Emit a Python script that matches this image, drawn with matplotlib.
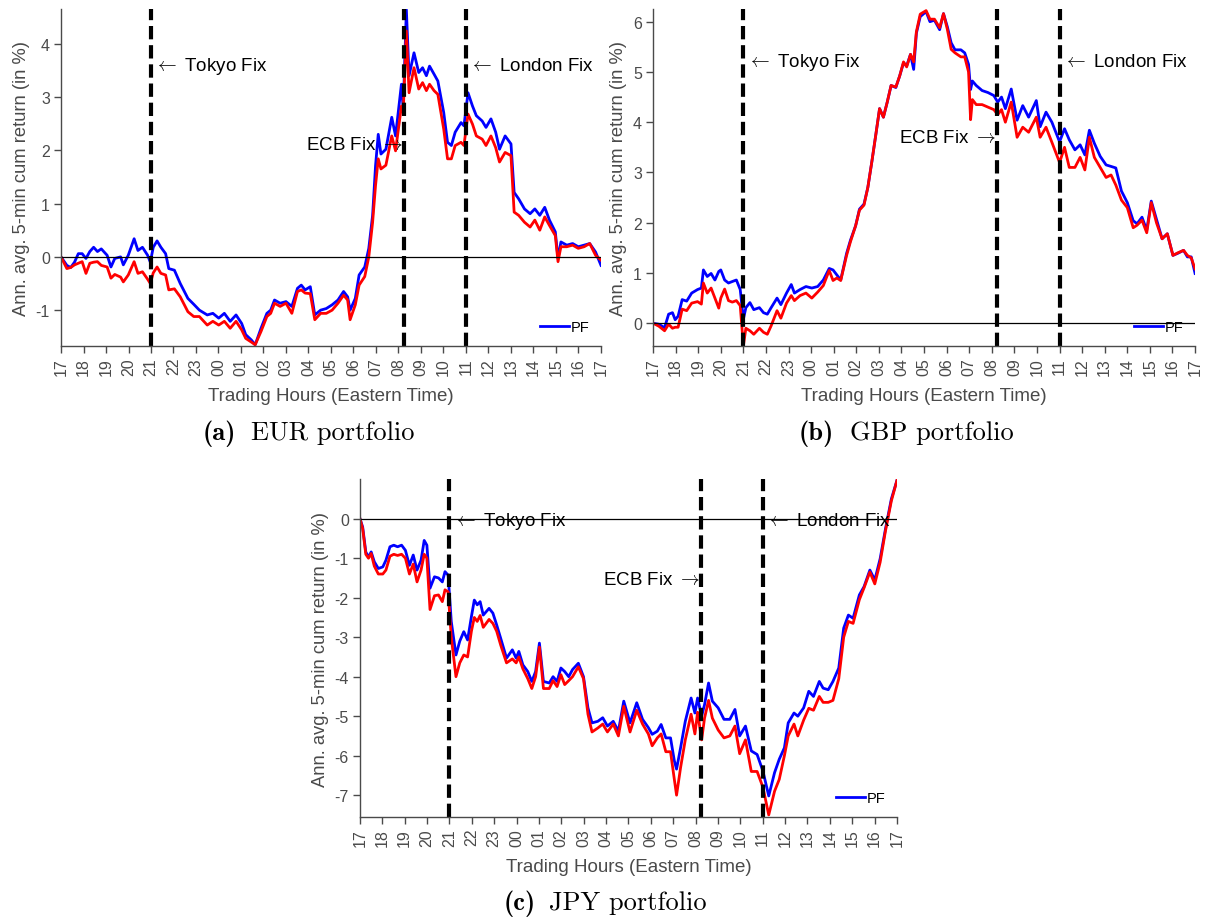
import matplotlib
matplotlib.use('Agg')
import matplotlib.pyplot as plt

# hours after 17:00 Eastern time
hour_labels = ['17', '18', '19', '20', '21', '22', '23', '00', '01', '02', '03',
               '04', '05', '06', '07', '08', '09', '10', '11', '12', '13', '14',
               '15', '16', '17']
fix_hours = [4.0, 15.25, 18.0]  # Tokyo, ECB, London

eur_hours = [0.00, 0.26, 0.43, 0.60, 0.77, 0.94, 1.11, 1.28, 1.45, 1.62,
             1.79, 2.05, 2.22, 2.39, 2.65, 2.77, 2.99, 3.25, 3.42, 3.62,
             3.85, 3.97, 4.10, 4.27, 4.44, 4.65, 4.79, 5.04, 5.30, 5.64,
             5.90, 6.15, 6.50, 6.75, 7.01, 7.26, 7.52, 7.78, 8.03, 8.21,
             8.46, 8.63, 8.89, 9.15, 9.32, 9.49, 9.74, 10.00, 10.26, 10.51,
             10.68, 10.85, 11.08, 11.28, 11.54, 11.79, 12.05, 12.31, 12.56, 12.74,
             12.85, 13.08, 13.25, 13.50, 13.68, 13.85, 13.98, 14.10, 14.22, 14.44,
             14.70, 14.87, 15.13, 15.21, 15.35, 15.47, 15.69, 15.90, 16.07, 16.24,
             16.38, 16.58, 16.75, 17.01, 17.18, 17.35, 17.52, 17.78, 17.91, 18.09,
             18.29, 18.46, 18.72, 18.89, 19.11, 19.32, 19.49, 19.74, 20.00, 20.14,
             20.34, 20.60, 20.85, 21.06, 21.28, 21.50, 21.71, 21.97, 22.09, 22.22,
             22.48, 22.74, 22.99, 23.25, 23.50, 23.76, 24.00]
eur_blue = [0, -0.16, -0.2, -0.1, 0.06, 0.06, -0.03, 0.1, 0.18, 0.1,
            0.15, 0.03, -0.19, -0.03, 0, -0.15, 0.03, 0.34, 0.12, 0.18,
            0.03, -0.1, 0.18, 0.3, 0.18, 0.06, -0.22, -0.25, -0.5, -0.78,
            -0.89, -1.0, -1.09, -1.06, -1.15, -1.06, -1.21, -1.09, -1.25, -1.46,
            -1.56, -1.65, -1.34, -1.06, -1.0, -0.81, -0.87, -0.84, -0.93, -0.59,
            -0.53, -0.62, -0.56, -1.09, -1.0, -0.97, -0.9, -0.81, -0.65, -0.75,
            -1.0, -0.78, -0.34, -0.19, 0.16, 0.78, 1.71, 2.3, 1.93, 2.02,
            2.62, 2.27, 3.24, 2.77, 4.64, 3.4, 3.83, 3.46, 3.55, 3.4,
            3.58, 3.43, 3.3, 2.71, 2.15, 2.09, 2.34, 2.52, 2.46, 3.08,
            2.83, 2.65, 2.55, 2.43, 2.59, 2.34, 2.02, 2.27, 2.12, 1.21,
            1.09, 0.9, 0.81, 0.9, 0.78, 0.93, 0.69, 0.47, -0.03, 0.28,
            0.22, 0.25, 0.19, 0.22, 0.25, 0.09, -0.16]
eur_red = [0, -0.22, -0.2, -0.15, -0.12, -0.09, -0.31, -0.12, -0.1, -0.09,
           -0.16, -0.19, -0.4, -0.33, -0.38, -0.47, -0.34, -0.09, -0.31, -0.28,
           -0.42, -0.5, -0.3, -0.19, -0.31, -0.34, -0.62, -0.6, -0.75, -1.03,
           -1.12, -1.12, -1.28, -1.21, -1.28, -1.21, -1.34, -1.21, -1.37, -1.53,
           -1.6, -1.65, -1.4, -1.12, -1.06, -0.87, -0.93, -0.87, -1.06, -0.65,
           -0.62, -0.68, -0.69, -1.18, -1.06, -1.06, -1.0, -0.87, -0.72, -0.81,
           -1.18, -0.9, -0.53, -0.37, 0.0, 0.65, 1.34, 1.84, 1.65, 1.72,
           2.27, 1.99, 2.83, 2.71, 4.24, 3.08, 3.55, 3.15, 3.27, 3.12,
           3.24, 3.12, 3.05, 2.4, 1.84, 1.84, 2.09, 2.15, 2.09, 2.68,
           2.49, 2.27, 2.21, 2.09, 2.27, 2.05, 1.78, 1.96, 1.9, 0.84,
           0.78, 0.65, 0.56, 0.69, 0.5, 0.75, 0.59, 0.4, -0.09, 0.19,
           0.19, 0.22, 0.16, 0.19, 0.25, 0.03, -0.06]

gbp_hours = [0, 0.26, 0.51, 0.69, 0.86, 0.98, 1.11, 1.29, 1.49, 1.71,
             1.97, 2.14, 2.23, 2.40, 2.57, 2.74, 2.91, 3.00, 3.17, 3.34,
             3.51, 3.69, 3.86, 4.00, 4.11, 4.29, 4.46, 4.71, 4.89, 5.06,
             5.23, 5.49, 5.66, 5.91, 6.12, 6.26, 6.51, 6.77, 7.03, 7.29,
             7.54, 7.80, 7.97, 8.14, 8.31, 8.57, 8.74, 8.97, 9.14, 9.34,
             9.51, 9.69, 9.86, 10.03, 10.20, 10.37, 10.54, 10.75, 10.92, 11.09,
             11.23, 11.40, 11.54, 11.66, 11.83, 12.09, 12.26, 12.46, 12.69, 12.86,
             13.03, 13.20, 13.37, 13.63, 13.80, 13.97, 14.06, 14.14, 14.31, 14.57,
             14.83, 15.09, 15.26, 15.43, 15.60, 15.86, 16.12, 16.37, 16.63, 16.97,
             17.14, 17.40, 17.66, 18.00, 18.22, 18.43, 18.68, 18.91, 19.12, 19.32,
             19.54, 19.80, 20.06, 20.28, 20.49, 20.74, 21.00, 21.26, 21.43, 21.65,
             21.86, 22.06, 22.29, 22.54, 22.77, 23.02, 23.23, 23.49, 23.66, 23.83,
             24.00]
gbp_blue = [0, -0.02, -0.09, 0.18, 0.21, 0.07, 0.14, 0.47, 0.44, 0.6,
            0.67, 0.7, 1.06, 0.93, 0.99, 0.86, 1.03, 1.06, 0.86, 0.8,
            0.83, 0.86, 0.67, 0.08, 0.31, 0.41, 0.27, 0.31, 0.21, 0.18,
            0.31, 0.5, 0.37, 0.6, 0.77, 0.6, 0.67, 0.73, 0.7, 0.73,
            0.86, 1.09, 1.06, 0.96, 0.86, 1.39, 1.65, 1.94, 2.27, 2.37,
            2.7, 3.22, 3.74, 4.27, 4.1, 4.4, 4.73, 4.69, 4.92, 5.18,
            5.12, 5.35, 5.05, 5.77, 6.1, 6.2, 6.0, 6.03, 5.84, 6.16,
            5.9, 5.58, 5.44, 5.44, 5.38, 5.15, 4.65, 4.82, 4.73, 4.63,
            4.59, 4.53, 4.4, 4.5, 4.27, 4.66, 4.04, 4.33, 4.1, 4.43,
            3.91, 4.2, 4.0, 3.61, 3.87, 3.65, 3.45, 3.55, 3.35, 3.84,
            3.58, 3.32, 3.15, 3.12, 3.09, 2.63, 2.4, 2.04, 1.98, 2.11,
            1.85, 2.43, 2.07, 1.68, 1.78, 1.35, 1.39, 1.45, 1.32, 1.32,
            0.99]
gbp_red = [0, -0.06, -0.15, -0.02, -0.1, -0.08, -0.08, 0.28, 0.25, 0.4,
           0.43, 0.38, 0.8, 0.6, 0.7, 0.5, 0.3, 0.5, 0.68, 0.45,
           0.42, 0.45, 0.35, -0.45, -0.1, -0.15, -0.22, -0.1, -0.18, -0.22,
           -0.05, 0.25, 0.1, 0.4, 0.55, 0.45, 0.55, 0.6, 0.5, 0.62,
           0.75, 1.05, 0.85, 0.9, 0.85, 1.35, 1.62, 1.94, 2.25, 2.35,
           2.7, 3.22, 3.74, 4.27, 4.1, 4.4, 4.73, 4.7, 4.92, 5.2,
           5.1, 5.35, 5.2, 5.8, 6.15, 6.22, 6.05, 6.05, 5.88, 6.16,
           5.85, 5.45, 5.38, 5.3, 5.3, 5.0, 4.05, 4.45, 4.35, 4.35,
           4.3, 4.25, 4.15, 4.25, 4.0, 4.4, 3.7, 3.9, 3.8, 4.1,
           3.7, 3.9, 3.6, 3.2, 3.5, 3.1, 3.1, 3.3, 3.05, 3.7,
           3.3, 3.1, 2.9, 2.95, 2.75, 2.45, 2.3, 1.9, 1.95, 2.05,
           1.8, 2.4, 2.0, 1.68, 1.78, 1.35, 1.4, 1.45, 1.35, 1.3,
           1.08]

jpy_hours = [0, 0.12, 0.26, 0.38, 0.50, 0.64, 0.82, 1.02, 1.16, 1.34,
             1.51, 1.68, 1.86, 2.03, 2.21, 2.38, 2.55, 2.73, 2.87, 2.99,
             3.13, 3.33, 3.51, 3.68, 3.80, 3.94, 4.08, 4.29, 4.46, 4.64,
             4.81, 4.98, 5.11, 5.24, 5.37, 5.51, 5.77, 5.94, 6.11, 6.29,
             6.55, 6.81, 6.98, 7.10, 7.28, 7.50, 7.68, 7.85, 8.02, 8.20,
             8.46, 8.63, 8.81, 8.98, 9.15, 9.33, 9.50, 9.76, 9.99, 10.19,
             10.37, 10.63, 10.85, 11.06, 11.32, 11.55, 11.79, 12.07, 12.37, 12.63,
             12.89, 13.06, 13.29, 13.46, 13.67, 13.88, 14.05, 14.15, 14.33, 14.54,
             14.80, 14.97, 15.09, 15.27, 15.40, 15.58, 15.75, 16.01, 16.27, 16.53,
             16.76, 16.97, 17.23, 17.49, 17.75, 18.01, 18.27, 18.53, 18.74, 18.97,
             19.14, 19.40, 19.57, 19.83, 20.06, 20.27, 20.53, 20.70, 20.93, 21.14,
             21.40, 21.62, 21.83, 22.04, 22.32, 22.53, 22.79, 23.01, 23.25, 23.49,
             23.75, 24.00]
jpy_blue = [0, -0.21, -0.84, -0.97, -0.84, -1.09, -1.26, -1.22, -1.05, -0.71,
            -0.67, -0.71, -0.67, -0.8, -1.18, -0.92, -1.3, -1.05, -0.55, -0.67,
            -1.76, -1.47, -1.5, -1.6, -1.34, -1.43, -2.6, -3.45, -3.1, -2.86,
            -3.07, -2.48, -2.06, -2.18, -2.1, -2.44, -2.27, -2.39, -2.69, -3.03,
            -3.53, -3.32, -3.53, -3.36, -3.7, -3.87, -4.12, -3.87, -3.15, -4.12,
            -4.16, -4.0, -4.12, -3.78, -3.87, -4.0, -3.82, -3.66, -4.0, -4.79,
            -5.17, -5.13, -5.04, -5.25, -5.13, -5.38, -4.62, -5.17, -4.66, -5.08,
            -5.29, -5.46, -5.38, -5.21, -5.55, -5.55, -6.13, -6.34, -5.8, -5.13,
            -4.54, -4.92, -4.54, -5.0, -4.71, -4.16, -4.62, -4.79, -5.08, -5.08,
            -4.83, -5.5, -5.25, -5.88, -5.97, -6.39, -7.02, -6.43, -6.09, -5.8,
            -5.17, -4.92, -5.0, -4.79, -4.37, -4.5, -4.12, -4.29, -4.33, -4.12,
            -3.78, -2.77, -2.44, -2.52, -1.93, -1.72, -1.3, -1.55, -1.01, -0.25,
            0.5, 0.97]
jpy_red = [0, -0.25, -0.9, -1.0, -0.88, -1.2, -1.4, -1.4, -1.3, -0.95,
           -0.9, -0.93, -0.9, -1.0, -1.4, -1.15, -1.6, -1.3, -0.9, -1.0,
           -2.3, -1.95, -1.93, -2.1, -1.8, -1.85, -3.0, -4.0, -3.65, -3.45,
           -3.5, -2.85, -2.5, -2.6, -2.45, -2.75, -2.55, -2.65, -2.85, -3.2,
           -3.65, -3.55, -3.65, -3.5, -3.8, -4.05, -4.3, -4.0, -3.25, -4.3,
           -4.3, -4.1, -4.25, -3.95, -4.2, -4.1, -4.0, -3.75, -4.05, -4.95,
           -5.4, -5.3, -5.2, -5.4, -5.2, -5.5, -4.75, -5.4, -4.85, -5.2,
           -5.45, -5.75, -5.55, -5.45, -5.9, -5.9, -6.6, -7.0, -6.3, -5.6,
           -4.95, -5.45, -4.9, -5.6, -5.05, -4.6, -5.05, -5.35, -5.55, -5.5,
           -5.25, -5.95, -5.6, -6.4, -6.4, -6.8, -7.5, -6.9, -6.6, -6.0,
           -5.5, -5.2, -5.5, -5.1, -4.8, -4.85, -4.5, -4.65, -4.65, -4.6,
           -4.05, -3.0, -2.6, -2.65, -2.05, -1.75, -1.35, -1.65, -1.1, -0.3,
           0.45, 0.97]

GREY = '#4a4a4a'


def draw_panel(ax, hours, blue, red, ylim, yticks, fix_y, ecb_y):
    """ one portfolio panel in the matlab look of the paper """
    blue_line, = ax.plot(hours, blue, color='#0000ff', lw=2.0)
    ax.plot(hours, red, color='#ff0000', lw=2.0)
    ax.axhline(0, color='black', lw=0.9)
    for h in fix_hours:
        ax.axvline(h, color='black', lw=3, dashes=(3.2, 1.4))

    ax.text(fix_hours[0] + 0.15, fix_y, r'$\leftarrow$ Tokyo Fix', fontsize=13.5,
            ha='left', va='center')
    ax.text(fix_hours[1] - 0.05, ecb_y, r'ECB Fix $\rightarrow$', fontsize=13.5,
            ha='right', va='center')
    ax.text(fix_hours[2] + 0.15, fix_y, r'$\leftarrow$ London Fix', fontsize=13.5,
            ha='left', va='center')

    ax.set_xlim(0, 24)
    ax.set_ylim(*ylim)
    ax.set_xticks(range(25))
    ax.set_xticklabels(hour_labels, rotation=90)
    ax.set_yticks(yticks)
    ax.set_yticklabels([str(t) for t in yticks])
    ax.tick_params(direction='out', length=5, width=1, colors=GREY,
                   labelsize=11.5, pad=3)
    for s in ['top', 'right']:
        ax.spines[s].set_visible(False)
    for s in ['left', 'bottom']:
        ax.spines[s].set_color(GREY)
        ax.spines[s].set_linewidth(1)
    ax.set_xlabel('Trading Hours (Eastern Time)', fontsize=13.5, color=GREY,
                  labelpad=9)
    ax.set_ylabel('Ann. avg. 5-min cum return (in %)', fontsize=13.2,
                  color=GREY, labelpad=4)
    ax.legend([blue_line], ['PF'], loc='lower right', frameon=False,
              fontsize=10.5, handlelength=2.0, handletextpad=0.1,
              borderaxespad=0.4)


def caption(fig, x_tag, x_text, y, tag, text):
    # latex style subcaption: bold tag, roman text
    fig.text(x_tag, y, tag, family='cmb10', fontsize=19, va='baseline')
    fig.text(x_text, y, text, family='cmr10', fontsize=19, va='baseline')


def main():
    plt.rcParams['font.family'] = ['Liberation Sans', 'DejaVu Sans']
    plt.rcParams['mathtext.fontset'] = 'cm'

    fig = plt.figure(figsize=(12.08, 9.2), dpi=100)
    ax_a = fig.add_axes([0.0505, 0.623, 0.447, 0.366])
    ax_b = fig.add_axes([0.5406, 0.623, 0.4487, 0.366])
    ax_c = fig.add_axes([0.298, 0.111, 0.4445, 0.367])

    draw_panel(ax_a, eur_hours, eur_blue, eur_red, (-1.67, 4.65),
               [-1, 0, 1, 2, 3, 4], 3.6, 2.1)
    draw_panel(ax_b, gbp_hours, gbp_blue, gbp_red, (-0.45, 6.25),
               [0, 1, 2, 3, 4, 5, 6], 5.2, 3.7)
    draw_panel(ax_c, jpy_hours, jpy_blue, jpy_red, (-7.55, 1.0),
               [-7, -6, -5, -4, -3, -2, -1, 0], -0.05, -1.55)

    caption(fig, 0.168, 0.2078, 0.5217, '(a)', 'EUR portfolio')
    caption(fig, 0.6614, 0.7036, 0.5217, '(b)', 'GBP portfolio')
    caption(fig, 0.4172, 0.4545, 0.0109, '(c)', 'JPY portfolio')

    fig.savefig('out.png', dpi=100)


if __name__ == '__main__':
    main()
